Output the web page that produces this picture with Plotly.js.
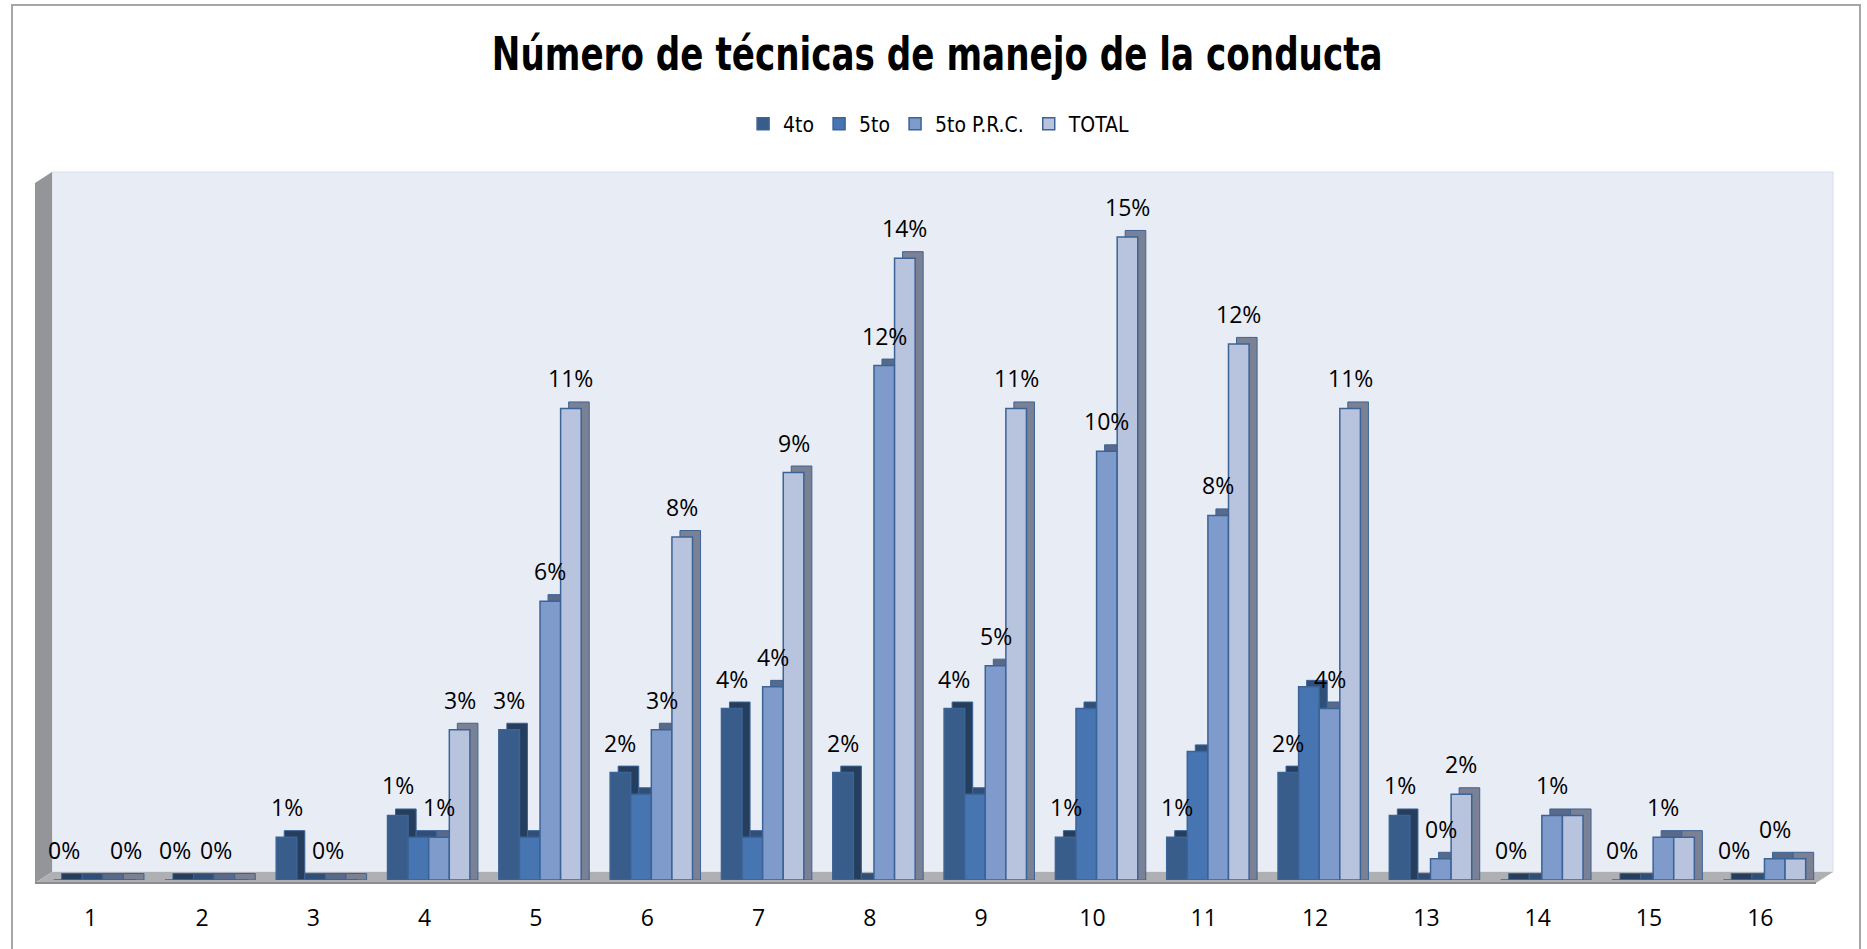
<!DOCTYPE html>
<html>
<head>
<meta charset="utf-8">
<script src="https://cdn.plot.ly/plotly-3.0.1.min.js"></script>
<style>
  html, body { margin: 0; padding: 0; background: #ffffff; }
  #chart { width: 1867px; height: 949px; }
</style>
</head>
<body>
<div id="chart"></div>
<script>
// ---------------- DATA (percentages) ----------------
var categories = [1, 2, 3, 4, 5, 6, 7, 8, 9, 10, 11, 12, 13, 14, 15, 16];
var seriesNames = ['4to', '5to', '5to P.R.C.', 'TOTAL'];
var values4to  = [0, 0, 0.99, 1.49, 3.47, 2.48, 3.96, 2.48, 3.96, 0.99, 0.99, 2.48, 1.49, 0, 0, 0];
var values5to  = [0, 0, 0, 0.99, 0.99, 1.98, 0.99, 0, 1.98, 3.96, 2.97, 4.46, 0, 0, 0, 0];
var valuesPRC  = [0, 0, 0, 0.99, 6.44, 3.47, 4.46, 11.88, 4.95, 9.90, 8.42, 3.96, 0.49, 1.49, 0.99, 0.49];
var valuesTOT  = [0, 0, 0, 3.47, 10.89, 7.92, 9.41, 14.36, 10.89, 14.85, 12.38, 10.89, 1.98, 1.49, 0.99, 0.49];
// categories whose data label is visible in the picture (5to has no labels)
var labelled4to = [1, 2, 3, 4, 5, 6, 7, 8, 9, 10, 11, 12, 13, 14, 15, 16];
var labelled5to = [];
var labelledPRC = [2, 3, 4, 5, 6, 7, 8, 9, 10, 11, 12, 13, 14, 15, 16];
var labelledTOT = [1, 4, 5, 6, 7, 8, 9, 10, 11, 12, 13];
var titleText = 'Número de técnicas de manejo de la conducta';

// ---------------- STYLE ----------------
var frontColors = ['#385D8A', '#4675B2', '#7E9BCB', '#B8C3DE'];
var sideColors  = ['#253E5E', '#2F4F78', '#58698A', '#7A8194'];
var edgeColor = '#3C6396';
var barW = 0.185;          // width of one column (category units)
var groupStart = -0.333;   // left edge of the first column relative to category
var depthX = 0.072;        // 3D depth, horizontal (category units)
var depthY = 0.15;         // 3D depth, vertical (value units)
var narrowFont = '"Liberation Sans Narrow", "Arial Narrow", "DejaVu Sans Condensed", sans-serif';
var labelFont = '"Open Sans", "Noto Sans", sans-serif';
var titleTargetWidth = 891; // px width of the condensed title in the picture

var allValues = [values4to, values5to, valuesPRC, valuesTOT];
var allLabelled = [labelled4to, labelled5to, labelledPRC, labelledTOT];

var traces = [];
var annotations = [];
allValues.forEach(function (vals, s) {
  var off = groupStart + s * barW;
  // extrusion (side + top faces) drawn behind the front face
  traces.push({
    type: 'bar', x: categories, y: vals.map(function (v) { return v + depthY; }),
    base: 0, offset: off + depthX, width: barW,
    marker: { color: sideColors[s], line: { color: edgeColor, width: 1 } },
    showlegend: false, hoverinfo: 'skip'
  });
  // front face
  traces.push({
    type: 'bar', name: seriesNames[s], x: categories, y: vals,
    offset: off, width: barW,
    marker: { color: frontColors[s], line: { color: edgeColor, width: 1.5 } }
  });
  allLabelled[s].forEach(function (c) {
    var i = categories.indexOf(c);
    annotations.push({
      x: c + off + barW / 2, y: vals[i], xref: 'x', yref: 'y',
      text: vals[i].toFixed(0) + '%', showarrow: false,
      yanchor: 'bottom', xanchor: 'center', yshift: 12,
      font: { family: labelFont, size: 23, color: '#000000' }
    });
  });
});

// plot area = front plane of the 3D box: x 35..1816, y 172..880 (pixels)
var W = 1781, H = 708;
var dxp = 17 / W, dyp = 8 / H, ylow = -3 / H, ytopL = 1 - 11 / H;
var shapes = [
  // back wall
  { type: 'rect', xref: 'paper', yref: 'paper', x0: dxp, x1: 1 + dxp, y0: dyp, y1: 1,
    fillcolor: '#E8ECF5', line: { color: '#D6DCE8', width: 1 }, layer: 'below' },
  // left side wall
  { type: 'path', xref: 'paper', yref: 'paper',
    path: 'M0,' + ylow + ' L0,' + ytopL + ' L' + dxp + ',1 L' + dxp + ',' + dyp + ' Z',
    fillcolor: '#949599', line: { width: 0 }, layer: 'below' },
  // floor
  { type: 'path', xref: 'paper', yref: 'paper',
    path: 'M0,' + ylow + ' L' + dxp + ',' + dyp + ' L' + (1 + dxp) + ',' + dyp + ' L1,' + ylow + ' Z',
    fillcolor: '#AEB0B3', line: { width: 0 }, layer: 'below' },
  { type: 'line', xref: 'paper', yref: 'paper', x0: 0, x1: 1, y0: ylow, y1: ylow,
    line: { color: '#8A8C8F', width: 2 }, layer: 'below' },
  // chart border
  { type: 'rect', xref: 'paper', yref: 'paper',
    x0: (12 - 35) / W, x1: (1860 - 35) / W, y0: (880 - 970) / H, y1: (880 - 5) / H,
    fillcolor: 'rgba(0,0,0,0)', line: { color: '#A6A6A6', width: 2 }, layer: 'below' }
];

var layout = {
  width: 1867, height: 949,
  margin: { l: 35, r: 51, t: 172, b: 69, pad: 0 },
  paper_bgcolor: '#FFFFFF', plot_bgcolor: 'rgba(0,0,0,0)',
  barmode: 'overlay',
  title: {
    text: '<b>' + titleText + '</b>',
    font: { family: narrowFont, size: 46, color: '#000000' },
    x: 0.502, xanchor: 'center', xref: 'container',
    y: 1 - 54 / 949, yanchor: 'middle', yref: 'container'
  },
  legend: {
    orientation: 'h', x: 0.503, xanchor: 'center', xref: 'container',
    y: 1 - 124 / 949, yanchor: 'middle', yref: 'container',
    font: { family: narrowFont, size: 21, color: '#000000' },
    itemwidth: 30, tracegroupgap: 0, bgcolor: 'rgba(0,0,0,0)'
  },
  xaxis: {
    range: [0.5, 16.5], tickmode: 'array', tickvals: categories,
    ticktext: categories.map(String),
    showgrid: false, zeroline: false, showline: false, ticks: '',
    ticklabelstandoff: 22,
    tickfont: { family: labelFont, size: 23, color: '#000000' }
  },
  yaxis: {
    range: [0, 16.35], visible: false, showgrid: false, zeroline: false
  },
  shapes: shapes,
  annotations: annotations,
  showlegend: true
};

Plotly.newPlot('chart', traces, layout, { staticPlot: true, displayModeBar: false }).then(function (gd) {
  // condense the bold title horizontally, like the narrow font of the original
  var t = gd.querySelector('.gtitle');
  if (t) {
    var w = t.getBBox().width;
    if (w > titleTargetWidth) {
      t.style.transformBox = 'fill-box';
      t.style.transformOrigin = 'center';
      t.style.transform = 'scaleX(' + (titleTargetWidth / w) + ')';
    }
  }
});
</script>
</body>
</html>
